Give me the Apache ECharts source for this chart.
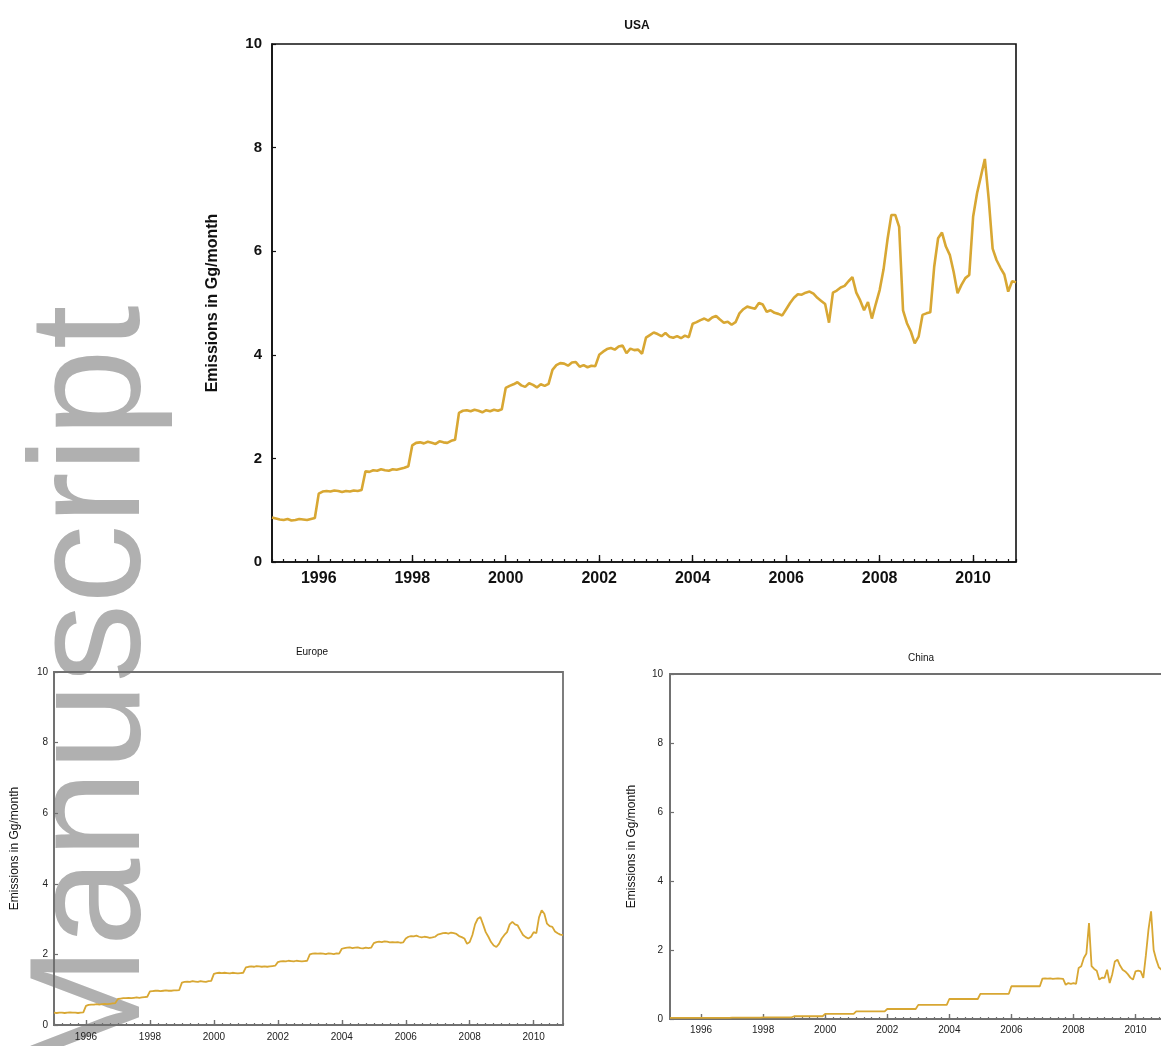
<!DOCTYPE html>
<html><head><meta charset="utf-8">
<script src="https://cdn.jsdelivr.net/npm/echarts@6/dist/echarts.min.js"></script>
<style>html,body{margin:0;padding:0;background:#fff}#c{width:1161px;height:1046px}</style>
</head><body><div id="c"></div>
<script>
// ---- data ----
const startYear = 1995;            // first monthly sample = Jan 1995
const endYear = 2010 + 11 / 12;    // last monthly sample = Dec 2010
const yearLabels = [1996, 1998, 2000, 2002, 2004, 2006, 2008, 2010];
const yTickStep = 2;
const titles = ['USA', 'Europe', 'China'];
const yAxisName = 'Emissions in Gg/month';
const watermark = 'Manuscript';

const usa = [
  0.86,0.84,0.82,0.81,0.83,0.80,0.81,0.83,0.82,0.81,0.83,0.85,
  1.32,1.36,1.37,1.36,1.38,1.37,1.35,1.37,1.36,1.38,1.37,1.39,
  1.75,1.74,1.77,1.76,1.79,1.77,1.76,1.79,1.78,1.80,1.82,1.85,
  2.25,2.30,2.31,2.29,2.32,2.30,2.28,2.33,2.31,2.30,2.34,2.36,
  2.88,2.92,2.93,2.91,2.94,2.92,2.89,2.93,2.91,2.94,2.92,2.95,
  3.36,3.40,3.43,3.47,3.41,3.38,3.45,3.42,3.37,3.43,3.40,3.44,
  3.71,3.80,3.84,3.83,3.79,3.85,3.86,3.77,3.80,3.76,3.79,3.78,
  4.00,4.06,4.11,4.13,4.10,4.16,4.18,4.03,4.12,4.09,4.10,4.02,
  4.33,4.38,4.43,4.40,4.36,4.42,4.35,4.33,4.36,4.32,4.37,4.34,
  4.60,4.63,4.67,4.70,4.66,4.72,4.75,4.68,4.62,4.64,4.58,4.63,
  4.80,4.88,4.93,4.91,4.89,5.00,4.97,4.83,4.86,4.81,4.79,4.76,
  4.88,5.00,5.10,5.17,5.16,5.20,5.22,5.18,5.10,5.04,4.98,4.62,
  5.20,5.24,5.30,5.33,5.42,5.50,5.20,5.05,4.86,5.02,4.70,4.98,
  5.25,5.65,6.22,6.70,6.70,6.47,4.86,4.61,4.45,4.22,4.35,4.77,
  4.80,4.82,5.70,6.25,6.36,6.09,5.93,5.60,5.19,5.35,5.48,5.54,
  6.67,7.12,7.45,7.78,7.00,6.05,5.83,5.68,5.55,5.22,5.42,5.40
];
const europe = [
  0.35,0.34,0.35,0.35,0.34,0.35,0.36,0.35,0.35,0.34,0.35,0.36,
  0.54,0.57,0.58,0.58,0.59,0.58,0.59,0.60,0.59,0.60,0.61,0.62,
  0.74,0.75,0.76,0.76,0.77,0.76,0.77,0.78,0.77,0.78,0.79,0.80,
  0.95,0.96,0.97,0.97,0.96,0.97,0.98,0.97,0.97,0.98,0.98,0.99,
  1.20,1.22,1.23,1.22,1.24,1.23,1.22,1.24,1.23,1.22,1.24,1.25,
  1.45,1.47,1.48,1.47,1.48,1.47,1.46,1.48,1.47,1.46,1.47,1.48,
  1.63,1.65,1.66,1.65,1.67,1.66,1.65,1.66,1.65,1.66,1.67,1.68,
  1.78,1.80,1.81,1.80,1.82,1.81,1.80,1.82,1.81,1.80,1.81,1.82,
  2.00,2.02,2.03,2.02,2.03,2.02,2.01,2.03,2.02,2.01,2.03,2.02,
  2.16,2.18,2.19,2.20,2.18,2.19,2.20,2.18,2.17,2.19,2.18,2.19,
  2.32,2.35,2.36,2.35,2.37,2.36,2.34,2.35,2.34,2.35,2.33,2.34,
  2.45,2.50,2.52,2.51,2.53,2.50,2.48,2.50,2.49,2.47,2.48,2.50,
  2.56,2.58,2.60,2.61,2.59,2.62,2.60,2.58,2.52,2.49,2.45,2.30,
  2.35,2.55,2.85,3.01,3.06,2.85,2.63,2.50,2.35,2.25,2.21,2.30,
  2.45,2.55,2.63,2.85,2.92,2.85,2.82,2.68,2.55,2.49,2.45,2.50,
  2.63,2.60,3.05,3.25,3.15,2.87,2.80,2.78,2.65,2.60,2.56,2.55
];
const china = [
  0.03,0.03,0.03,0.03,0.03,0.03,0.03,0.03,0.03,0.03,0.03,0.03,
  0.03,0.03,0.03,0.03,0.03,0.03,0.03,0.03,0.03,0.03,0.03,0.03,
  0.04,0.04,0.04,0.04,0.04,0.04,0.04,0.04,0.04,0.04,0.04,0.04,
  0.05,0.05,0.05,0.05,0.05,0.05,0.05,0.05,0.05,0.05,0.05,0.05,
  0.08,0.08,0.08,0.08,0.08,0.08,0.08,0.08,0.08,0.08,0.08,0.08,
  0.15,0.15,0.15,0.15,0.15,0.15,0.15,0.15,0.15,0.15,0.15,0.15,
  0.22,0.22,0.22,0.22,0.22,0.22,0.22,0.22,0.22,0.22,0.22,0.22,
  0.29,0.29,0.29,0.29,0.29,0.29,0.29,0.29,0.29,0.29,0.29,0.29,
  0.41,0.41,0.41,0.41,0.41,0.41,0.41,0.41,0.41,0.41,0.41,0.41,
  0.58,0.58,0.58,0.58,0.58,0.58,0.58,0.58,0.58,0.58,0.58,0.58,
  0.73,0.73,0.73,0.73,0.73,0.73,0.73,0.73,0.73,0.73,0.73,0.73,
  0.95,0.95,0.95,0.95,0.95,0.95,0.95,0.95,0.95,0.95,0.95,0.95,
  1.17,1.18,1.17,1.18,1.16,1.17,1.18,1.17,1.16,0.99,1.04,1.02,
  1.04,1.02,1.48,1.53,1.77,1.90,2.78,1.53,1.45,1.40,1.14,1.20,
  1.19,1.43,1.04,1.30,1.67,1.72,1.55,1.43,1.38,1.30,1.20,1.14,
  1.38,1.40,1.38,1.19,1.85,2.59,3.12,2.00,1.72,1.50,1.43,1.40
];

// ---- layout / style ----
const FONT = 'Liberation Sans, Arial, sans-serif';
const panels = [
  { data: usa, grid: {left: 272, top: 44, width: 744, height: 518},
    frame: '#111', frameW: 1.6, lineW: 2.6, labelSize: 15, xLabelSize: 16, labelWeight: 'bold', labelColor: '#111',
    yMargin: 10, xMargin: 9, nameSize: 16, nameWeight: 'bold', nameGap: 51,
    titleX: 637, titleY: 20, titleSize: 12, titleWeight: 'bold', majorLen: 7, minorLen: 3 },
  { data: europe, grid: {left: 54, top: 672, width: 509, height: 353},
    frame: '#707070', frameW: 1.8, lineW: 1.8, labelSize: 10, xLabelSize: 10, labelWeight: 'normal', labelColor: '#222',
    yMargin: 6, xMargin: 7, nameSize: 12, nameWeight: 'normal', nameGap: 33,
    titleX: 312, titleY: 647, titleSize: 10, titleWeight: 'normal', majorLen: 5, minorLen: 2 },
  { data: china, grid: {left: 670, top: 674, width: 494, height: 345},
    frame: '#707070', frameW: 1.8, lineW: 1.8, labelSize: 10, xLabelSize: 10, labelWeight: 'normal', labelColor: '#222',
    yMargin: 7, xMargin: 6, nameSize: 12, nameWeight: 'normal', nameGap: 32,
    titleX: 921, titleY: 653, titleSize: 10, titleWeight: 'normal', majorLen: 5, minorLen: 2 }
];
const LINE_COLOR = '#d8a733';

const option = {
  animation: false,
  backgroundColor: '#fff',
  title: [], grid: [], xAxis: [], yAxis: [], series: [],
  graphic: [{
    type: 'text', x: 16, y: 1078, rotation: Math.PI / 2, z: -10, silent: true,
    style: { text: watermark, x: 0, y: 0, font: 'normal 158px ' + FONT, fill: '#b0b0b0',
             textAlign: 'left', textVerticalAlign: 'top' }
  }]
};

panels.forEach((p, i) => {
  option.title.push({
    text: titles[i], left: p.titleX, top: p.titleY, textAlign: 'center', padding: 0,
    textStyle: { fontFamily: FONT, fontSize: p.titleSize, fontWeight: p.titleWeight, color: '#111' }
  });
  option.grid.push(Object.assign({ show: true, borderColor: p.frame, borderWidth: p.frameW,
    backgroundColor: 'transparent', containLabel: false, outerBoundsMode: 'none' }, p.grid));
  // main x axis: quarterly short ticks, labels every 2 years
  option.xAxis.push({
    type: 'value', gridIndex: i, position: 'bottom', min: startYear, max: endYear, interval: 0.25,
    axisLine: { show: true, lineStyle: { color: p.frame, width: p.frameW } },
    axisTick: { show: true, inside: true, length: p.minorLen, lineStyle: { color: p.frame, width: 1.2 } },
    axisLabel: { show: true, customValues: yearLabels, margin: p.xMargin,
      fontFamily: FONT, fontSize: p.xLabelSize, fontWeight: p.labelWeight, color: p.labelColor,
      formatter: v => String(Math.round(v)) },
    splitLine: { show: false }
  });
  // helper axis: longer ticks at labelled years (placed on the bottom edge)
  option.xAxis.push({
    type: 'value', gridIndex: i, position: 'top', offset: -p.grid.height,
    min: startYear, max: endYear, interval: 0.25,
    axisLine: { show: false },
    axisTick: { show: true, inside: false, length: p.majorLen, customValues: yearLabels,
      lineStyle: { color: p.frame, width: 1.4 } },
    axisLabel: { show: false }, splitLine: { show: false }
  });
  option.yAxis.push({
    type: 'value', gridIndex: i, min: 0, max: 10, interval: yTickStep,
    name: yAxisName, nameLocation: 'middle', nameGap: p.nameGap, nameRotate: 90,
    nameTextStyle: { fontFamily: FONT, fontSize: p.nameSize, fontWeight: p.nameWeight, color: '#111' },
    axisLine: { show: true, lineStyle: { color: p.frame, width: p.frameW } },
    axisTick: { show: true, inside: true, length: 4, lineStyle: { color: p.frame, width: 1.2 } },
    axisLabel: { margin: p.yMargin, fontFamily: FONT, fontSize: p.labelSize, fontWeight: p.labelWeight, color: p.labelColor },
    splitLine: { show: false }
  });
  option.series.push({
    type: 'line', xAxisIndex: i * 2, yAxisIndex: i, z: 3,
    data: p.data.map((v, k) => [startYear + k / 12, v]),
    showSymbol: false, symbol: 'none', smooth: false,
    lineStyle: { color: LINE_COLOR, width: p.lineW },
    clip: true
  });
});

const chart = echarts.init(document.getElementById('c'), null, { renderer: 'canvas' });
chart.setOption(option);
</script>
</body></html>
